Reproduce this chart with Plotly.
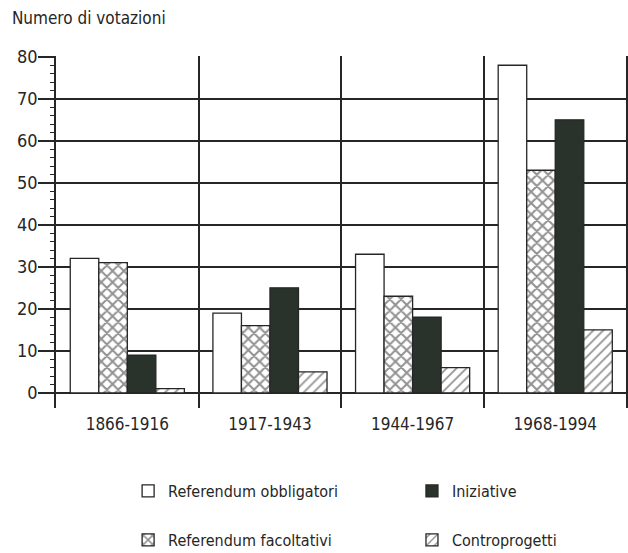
import plotly.graph_objects as go

periodi = ["1866-1916", "1917-1943", "1944-1967", "1968-1994"]

obbligatori = [32, 19, 33, 78]
facoltativi = [31, 16, 23, 53]
iniziative = [9, 25, 18, 65]
controprogetti = [1, 5, 6, 15]

FONT = "DejaVu Sans Condensed, Liberation Sans Narrow, sans-serif"
INK = "#262626"

fig = go.Figure()

fig.add_trace(go.Bar(
    x=periodi, y=obbligatori, name="Referendum obbligatori",
    marker=dict(color="white", line=dict(color=INK, width=1.3)),
    legend="legend"
))
fig.add_trace(go.Bar(
    x=periodi, y=facoltativi, name="Referendum facoltativi",
    marker=dict(color="white", line=dict(color=INK, width=1.3),
                pattern=dict(shape="x", fgcolor=INK, bgcolor="white",
                             size=8, solidity=0.45, fillmode="overlay")),
    legend="legend3"
))
fig.add_trace(go.Bar(
    x=periodi, y=iniziative, name="Iniziative",
    marker=dict(color="#2a332b", line=dict(color=INK, width=1.3)),
    legend="legend2"
))
fig.add_trace(go.Bar(
    x=periodi, y=controprogetti, name="Controprogetti",
    marker=dict(color="white", line=dict(color=INK, width=1.3),
                pattern=dict(shape="/", fgcolor=INK, bgcolor="white",
                             size=7, solidity=0.25, fillmode="overlay")),
    legend="legend4"
))

minori = [v for v in range(2, 80, 2) if v % 10]

# una legenda per voce, disposte a griglia 2x2 sotto il grafico
def legenda(x, y):
    return dict(x=x, y=y, xref="container", yref="container",
                xanchor="left", yanchor="middle",
                font=dict(size=16), bgcolor="rgba(0,0,0,0)")

fig.update_layout(
    width=628, height=553,
    margin=dict(l=56, r=0, t=56, b=145, autoexpand=False),
    paper_bgcolor="white", plot_bgcolor="white",
    font=dict(family=FONT, size=16, color=INK),
    barmode="group", bargap=0.2, bargroupgap=0,
    title=dict(text="Numero di votazioni", x=0.019, xanchor="left",
               y=0.967, yanchor="middle", yref="container",
               font=dict(family=FONT, size=17, color=INK)),
    xaxis=dict(
        type="category", range=[-0.5, 3.51], tickson="boundaries",
        showgrid=True, gridcolor=INK, gridwidth=1.5,
        ticks="", showline=False, zeroline=False, automargin=False,
        ticklabelstandoff=4, tickfont=dict(size=17), fixedrange=True
    ),
    yaxis=dict(
        range=[-3.6, 80.2], tickvals=[0, 10, 20, 30, 40, 50, 60, 70, 80],
        showgrid=True, gridcolor=INK, gridwidth=1.5,
        zeroline=True, zerolinecolor=INK, zerolinewidth=1.5,
        showline=True, linecolor=INK, linewidth=1.5,
        ticks="outside", ticklen=16, tickwidth=1.5, tickcolor=INK,
        ticklabelstandoff=-3, automargin=False, fixedrange=True,
        minor=dict(tickvals=minori, ticks="outside", ticklen=4,
                   tickwidth=1.2, tickcolor=INK, showgrid=False),
        tickfont=dict(size=18)
    ),
    legend=legenda(0.204, 0.112),
    legend2=legenda(0.656, 0.112),
    legend3=legenda(0.204, 0.0235),
    legend4=legenda(0.656, 0.0235),
    showlegend=True
)

fig.write_html("out.html", config={"displayModeBar": False},
               post_script="document.body.style.margin='0';")
